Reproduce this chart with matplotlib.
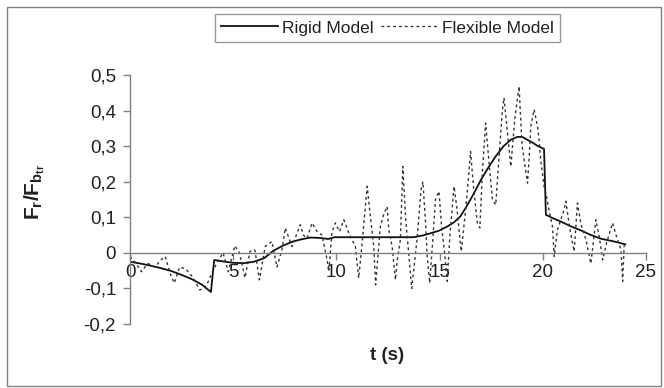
import numpy as np
import matplotlib
matplotlib.use("Agg")
import matplotlib.pyplot as plt
from matplotlib.patches import Rectangle
from matplotlib.ticker import FuncFormatter, MultipleLocator

plt.rcParams['font.family'] = ['Liberation Sans', 'DejaVu Sans']
plt.rcParams['mathtext.fontset'] = 'custom'
plt.rcParams['mathtext.rm'] = 'Liberation Sans'
plt.rcParams['mathtext.bf'] = 'Liberation Sans:bold'
plt.rcParams['mathtext.it'] = 'Liberation Sans:italic'

# rigid model response
t_rigid = [0.0, 0.5, 1.0, 1.5, 2.0, 2.5, 3.0, 3.5, 3.92, 4.08, 4.5, 5.0, 5.5, 6.0,
           6.5, 6.95, 7.4, 7.9, 8.3, 8.74, 9.2, 9.6, 9.9, 11.0, 12.0, 13.0, 13.75,
           14.2, 14.56, 15.0, 15.37, 15.7, 16.0, 16.3, 16.67, 17.0, 17.3, 17.7,
           18.1, 18.45, 18.77, 19.0, 19.25, 19.5, 19.74, 20.06, 20.15, 20.5,
           20.87, 21.35, 21.85, 22.3, 22.8, 23.45, 24.0]
f_rigid = [-0.025, -0.03, -0.036, -0.043, -0.051, -0.062, -0.074, -0.09, -0.11, -0.02,
           -0.024, -0.028, -0.029, -0.025, -0.015, 0.006, 0.02, 0.032, 0.038, 0.043,
           0.042, 0.039, 0.044, 0.044, 0.044, 0.044, 0.044, 0.049, 0.055, 0.063,
           0.074, 0.086, 0.102, 0.13, 0.168, 0.205, 0.234, 0.27, 0.3, 0.318, 0.326,
           0.326, 0.318, 0.31, 0.301, 0.292, 0.107, 0.097, 0.088, 0.075, 0.063,
           0.051, 0.04, 0.032, 0.024]

# flexible model response
t_flex = [0.0, 0.3, 0.55, 0.87, 1.2, 1.5, 1.7, 2.0, 2.15, 2.4, 2.7, 3.06, 3.38, 3.6,
          3.79, 4.03, 4.3, 4.51, 4.76, 5.08, 5.3, 5.57, 5.81, 6.05, 6.27, 6.55, 6.88,
          7.12, 7.36, 7.52, 7.85, 8.25, 8.4, 8.58, 8.82, 9.06, 9.3, 9.55, 9.63, 9.79,
          9.95, 10.15, 10.36, 10.6, 10.92, 11.08, 11.25, 11.4, 11.49, 11.65, 11.81,
          11.9, 12.13, 12.3, 12.46, 12.54, 12.7, 12.86, 12.95, 13.1, 13.22, 13.35,
          13.5, 13.65, 13.92, 14.1, 14.19, 14.32, 14.4, 14.52, 14.65, 14.8, 14.97,
          15.1, 15.21, 15.37, 15.5, 15.7, 15.85, 15.94, 16.05, 16.26, 16.42, 16.5,
          16.65, 16.83, 16.95, 17.07, 17.23, 17.4, 17.56, 17.72, 17.88, 18.04, 18.12,
          18.3, 18.45, 18.65, 18.85, 18.93, 19.0, 19.1, 19.26, 19.34, 19.42, 19.58,
          19.74, 19.82, 19.9, 20.06, 20.15, 20.3, 20.47, 20.55, 20.71, 21.03, 21.12,
          21.3, 21.52, 21.68, 21.85, 22.09, 22.33, 22.57, 22.75, 22.9, 23.1, 23.38,
          23.6, 23.79, 23.87, 23.95]
f_flex = [-0.01, -0.03, -0.053, -0.03, -0.04, -0.02, -0.01, -0.067, -0.085, -0.04,
          -0.045, -0.07, -0.104, -0.1, -0.081, -0.048, -0.02, 0.0, -0.053, 0.02, 0.0,
          -0.07, 0.004, 0.008, -0.076, 0.018, 0.032, -0.04, 0.008, 0.07, 0.018, 0.079,
          0.05, 0.041, 0.084, 0.06, 0.05, -0.02, -0.053, 0.06, 0.084, 0.06, 0.093,
          0.056, 0.018, -0.071, 0.03, 0.13, 0.187, 0.1, 0.018, -0.09, 0.074, 0.11,
          0.13, 0.065, 0.018, -0.076, -0.02, 0.037, 0.243, 0.1, 0.0, -0.1, 0.046,
          0.177, 0.2, 0.084, -0.01, -0.085, 0.02, 0.15, 0.173, 0.07, 0.018, -0.08,
          0.05, 0.187, 0.12, 0.065, 0.004, 0.12, 0.224, 0.285, 0.18, 0.084, 0.07,
          0.224, 0.365, 0.25, 0.15, 0.135, 0.27, 0.4, 0.436, 0.33, 0.243, 0.38, 0.468,
          0.375, 0.3, 0.26, 0.196, 0.27, 0.356, 0.403, 0.356, 0.318, 0.26, 0.187,
          0.168, 0.12, 0.074, -0.01, 0.065, 0.12, 0.145, 0.07, 0.004, 0.14, 0.08,
          0.037, -0.03, 0.093, 0.04, -0.02, 0.03, 0.084, 0.04, 0.008, -0.08, 0.03]

W, H = 664, 388
fig = plt.figure(figsize=(W / 100, H / 100), dpi=100)
ax = fig.add_axes([130 / W, 1 - 324 / H, (646 - 130) / W, (324 - 75) / H])

grey = '#808080'
l_rigid, = ax.plot(t_rigid, f_rigid, color='#111111', lw=1.3, label='Rigid Model')
l_flex, = ax.plot(t_flex, f_flex, color='#333333', lw=1.0,
                  linestyle=(0, (2, 2.2)), label='Flexible Model')

ax.set_xlim(0, 25)
ax.set_ylim(-0.2, 0.5)
ax.xaxis.set_major_locator(MultipleLocator(5))
ax.yaxis.set_major_locator(MultipleLocator(0.1))
ax.yaxis.set_major_formatter(FuncFormatter(
    lambda v, p: '0' if abs(v) < 1e-9 else f'{v:.1f}'.replace('.', ',')))

for s in ['top', 'right']:
    ax.spines[s].set_visible(False)
ax.spines['bottom'].set_position(('data', 0))
for s in ['left', 'bottom']:
    ax.spines[s].set_color(grey)
    ax.spines[s].set_linewidth(1.0)
ax.tick_params(axis='both', colors=grey, labelcolor='#222222', labelsize=13.5,
               length=5, width=1.0, direction='out')
ax.tick_params(axis='x', pad=3)
ax.tick_params(axis='y', pad=5)
ax.patch.set_alpha(0)

fig.text(35 / W, 1 - 192 / H, r'$\mathbf{F_r/F_{b_{tr}}}$', rotation=90,
         ha='center', va='center', fontsize=15, color='#222222')
fig.text(387 / W, 1 - 355 / H, 't (s)', fontweight='bold', fontsize=13.5,
         ha='center', va='center', color='#222222')

leg = fig.legend(handles=[l_rigid, l_flex], loc='center',
                 bbox_to_anchor=(387.5 / W, 1 - 28 / H), ncol=2, fontsize=12.5,
                 frameon=True, fancybox=False, handlelength=3.3,
                 handletextpad=0.25, columnspacing=0.4, borderpad=0.35)
leg.get_frame().set_edgecolor(grey)
leg.get_frame().set_linewidth(1.0)
for txt in leg.get_texts():
    txt.set_color('#222222')

fig.patches.append(Rectangle((7 / W, 2 / H), 654 / W, 379 / H,
                             transform=fig.transFigure, fill=False,
                             edgecolor=grey, lw=1.0))

fig.savefig('out.png', dpi=100)
